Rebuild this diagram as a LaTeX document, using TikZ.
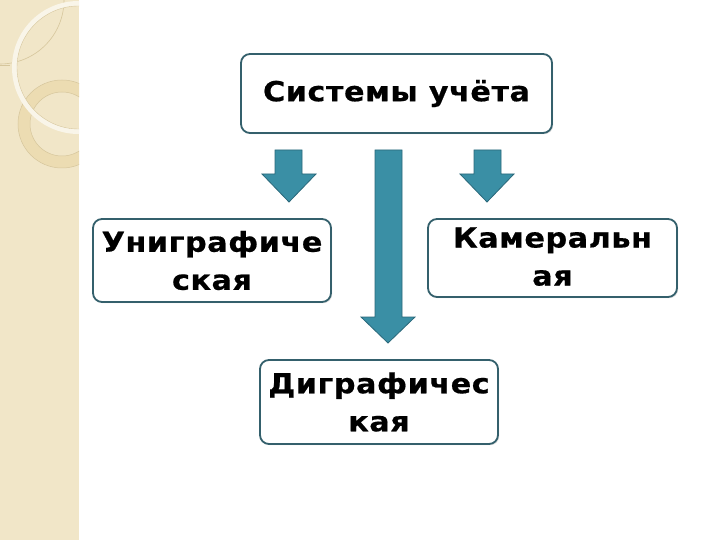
\documentclass[tikz,border=0pt]{standalone}
\usepackage{fontspec}
\setmainfont{DejaVu Sans}
\newfontfamily\boxfont[FakeStretch=1.1, LetterSpace=2, FakeBold=0.6]{DejaVu Sans Bold}
\usetikzlibrary{shadows}
\definecolor{boxline}{RGB}{52,96,108}
\definecolor{arrowfill}{RGB}{58,143,165}
\definecolor{arrowline}{RGB}{42,104,122}
\definecolor{strip}{RGB}{241,230,200}
\definecolor{stripline}{RGB}{214,198,156}
\definecolor{ringfill}{RGB}{236,220,178}
\begin{document}
\begin{tikzpicture}[x=1pt,y=-1pt,
  box/.style={draw=boxline, line width=1.8pt, rounded corners=9pt, fill=white,
    font=\fontsize{27.5}{38}\boxfont, align=center, inner sep=0pt,
    drop shadow={shadow xshift=1.2pt, shadow yshift=-1.2pt, opacity=0.25, fill=gray}},
  blockarrow/.style={fill=arrowfill, draw=arrowline, line width=0.8pt, line join=miter}]
\useasboundingbox (0,0) rectangle (720,540);
\fill[white] (0,0) rectangle (720,540);
% decorative strip
\begin{scope}
\clip (0,0) rectangle (79,540);
\fill[strip] (0,0) rectangle (79,540);
\draw[stripline, line width=0.6pt] (0,0) circle[radius=64];
\draw[stripline, line width=0.6pt] (0,65) -- (10,65);
\fill[ringfill, even odd rule] (62,124) circle[radius=44] (62,124) circle[radius=32];
\draw[stripline, line width=0.5pt] (62,124) circle[radius=44] (62,124) circle[radius=32];
\draw[white!60!strip, line width=5pt] (78.5,67.5) circle[radius=64];
\draw[stripline, line width=0.4pt] (78.5,67.5) circle[radius=61.5];
\end{scope}
% boxes
\node[box, minimum width=311pt, minimum height=79pt] (sys) at (396.5,93.5) {\raisebox{2pt}{Системы учёта}};
\node[box, minimum width=238pt, minimum height=83pt] (uni) at (212,260.5) {Униграфиче\\ская};
\node[box, minimum width=249pt, minimum height=78pt] (kam) at (552.5,258) {\raisebox{3pt}{Камеральн}\\\raisebox{3pt}{ая}};
\node[box, minimum width=238pt, minimum height=84pt] (dig) at (379,402) {Диграфичес\\кая};
% block arrows
\path[blockarrow] (275,150) -- (302,150) -- (302,174) -- (316,174) -- (289,202) -- (262,174) -- (275,174) -- cycle;
\path[blockarrow] (375,150) -- (402,150) -- (402,317) -- (415,317) -- (388,343) -- (361,317) -- (375,317) -- cycle;
\path[blockarrow] (474,150) -- (501,150) -- (501,174) -- (514,174) -- (487,202) -- (460,174) -- (474,174) -- cycle;
\end{tikzpicture}
\end{document}
